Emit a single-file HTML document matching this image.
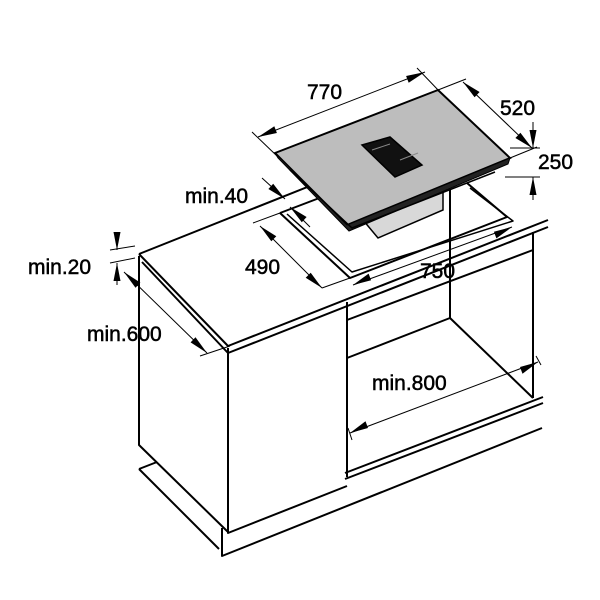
<!DOCTYPE html><html><head><style>body{margin:0;background:#fff}svg{display:block}text{font-family:"Liberation Sans",Arial,sans-serif;font-size:21px;fill:#000;stroke:#000;stroke-width:0.5}</style></head><body>
<svg id="s" width="600" height="600" viewBox="0 0 600 600" xmlns="http://www.w3.org/2000/svg">
<g fill="none" stroke="#000" stroke-width="2" stroke-linejoin="round">
<path d="M139,254L330,178"/>
<path d="M139,254L228,346L548,220"/>
<path d="M142,262L228,353L548,227"/>
<path d="M139,256V445L228,532"/>
<path d="M228,348V533L347,486"/>
<path d="M139,469L157,462M139,469L219,549M222,528V556L542,428"/>
<path d="M347,302V477"/>
<path d="M347,320L533,250M347,358L450,318V190M450,318L533,398M533,232V398"/>
<path d="M345,473L543,397M345,479L543,403"/>
<path d="M280,213L350,278L507,217L467,183"/>
<path d="M287,214L352,272L513,221L470,188" stroke-width="1.5"/>
<path d="M280,213L322,197"/>
</g>
<path d="M363,220L378,238L443,210V190L380,214Z" fill="#d8d8d8" stroke="#000" stroke-width="1.5"/>
<path d="M275,153L438,90L510,158L347,225Z" fill="#bdbdbd" stroke="#000" stroke-width="2"/>
<path d="M275,153L347,225L510,158L508,164L349,231L278,158Z" fill="#222" stroke="#000" stroke-width="1"/>
<path d="M290,170L352,228L495,172" fill="none" stroke="#000" stroke-width="1.5"/>
<path d="M362,145L390,137L422,165L395,177Z" fill="#111" stroke="#000" stroke-width="1.5"/>
<path d="M372,150L390,144M400,160L418,153" stroke="#888" stroke-width="1"/>
<g stroke="#000" stroke-width="1" fill="none">
<path d="M252,132L277,156M417,68L440,92"/>
<path d="M258,137L425,72"/>
<path d="M438,90L466,79M510,158L537,147"/>
<path d="M463,82L532,148"/>
<path d="M510,148L540,148M505,177L540,177"/>
<path d="M533,122V148M533,200V177"/>
<path d="M262,178L285,199M310,227L290,207"/>
<path d="M253,223L280,213M322,288L350,278"/>
<path d="M260,226L322,288"/>
<path d="M353,285L512,227"/>
<path d="M110,250L135,246M110,263L135,258"/>
<path d="M117,232V250M117,285V263"/>
<path d="M124,272L207,353"/>
<path d="M200,356L230,346"/>
<path d="M350,433L538,362"/>
<path d="M348,428L352,440M536,356L541,365"/>
</g>
<g fill="#000">
<polygon points="258,137 274.3,126.3 276.9,133.0"/>
<polygon points="425,72 408.7,82.7 406.1,76.0"/>
<polygon points="463,82 479.6,92.0 474.6,97.2"/>
<polygon points="532,148 515.4,138.0 520.4,132.8"/>
<polygon points="533,148 529.5,130 536.5,130"/>
<polygon points="533,177 536.5,195 529.5,195"/>
<polygon points="285,199 268.4,189.0 273.2,183.7"/>
<polygon points="290,207 306.6,217.0 301.8,222.3"/>
<polygon points="260,226 276.3,236.3 271.3,241.3"/>
<polygon points="322,288 305.7,277.7 310.7,272.7"/>
<polygon points="353,285 368.6,273.6 371.1,280.3"/>
<polygon points="512,227 496.4,238.4 493.9,231.7"/>
<polygon points="117,250 113.5,232 120.5,232"/>
<polygon points="117,263 120.5,281 113.5,281"/>
<polygon points="124,272 140.4,282.6 135.5,287.7"/>
<polygon points="207,353 190.6,342.4 195.5,337.3"/>
<polygon points="350,433 365.5,421.3 368.0,428.0"/>
<polygon points="538,362 522.5,373.7 520.0,367.0"/>
</g>
<text x="307" y="99">770</text>
<text x="500" y="115">520</text>
<text x="538" y="169">250</text>
<text x="185" y="203">min.40</text>
<text x="245" y="274">490</text>
<text x="420" y="278">750</text>
<text x="28" y="274">min.20</text>
<text x="87" y="341">min.600</text>
<text x="372" y="390">min.800</text>
</svg></body></html>
